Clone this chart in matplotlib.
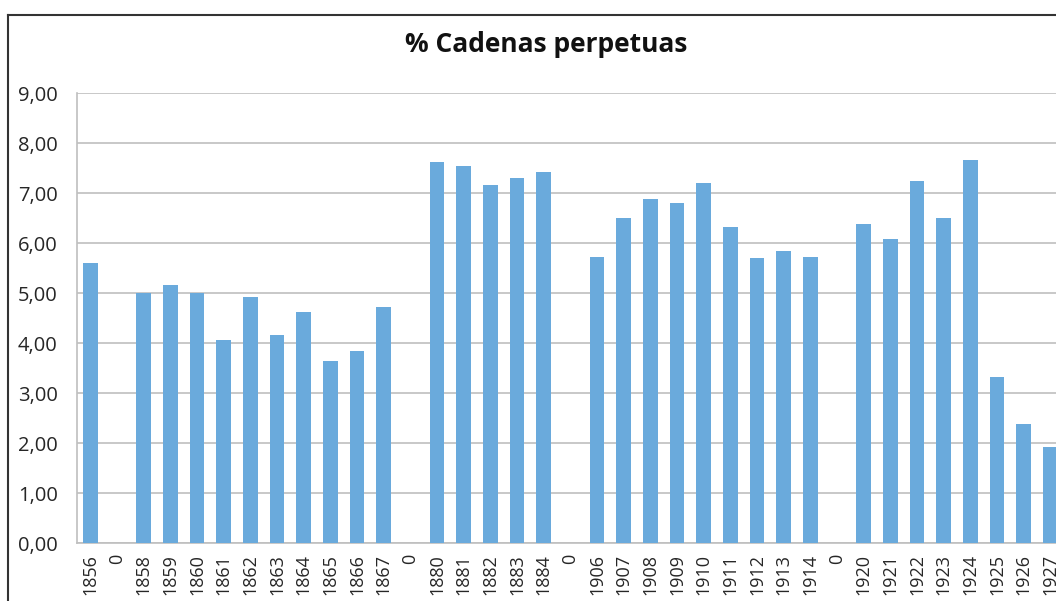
import matplotlib.pyplot as plt
from matplotlib.lines import Line2D

labels = ["1856", "0", "1858", "1859", "1860", "1861", "1862", "1863", "1864",
          "1865", "1866", "1867", "0", "1880", "1881", "1882", "1883", "1884",
          "0", "1906", "1907", "1908", "1909", "1910", "1911", "1912", "1913",
          "1914", "0", "1920", "1921", "1922", "1923", "1924", "1925", "1926",
          "1927"]
values = [5.60, 0, 5.00, 5.16, 5.00, 4.06, 4.92, 4.16, 4.62, 3.64, 3.84, 4.72,
          0, 7.62, 7.54, 7.16, 7.30, 7.42, 0, 5.72, 6.50, 6.88, 6.80, 7.20,
          6.32, 5.70, 5.84, 5.72, 0, 6.38, 6.08, 7.24, 6.50, 7.66, 3.32, 2.38,
          1.92]
yticks = [0, 1, 2, 3, 4, 5, 6, 7, 8, 9]

plt.rcParams["font.family"] = ["Open Sans", "DejaVu Sans"]

W, H = 1056, 601
fig = plt.figure(figsize=(W / 100, H / 100), dpi=100)

# plot area in pixels: left 77, top 93, bottom 543, 26.67 px per category
left, top, bottom = 77, 93, 543
width = 26.67 * len(labels)
ax = fig.add_axes([left / W, 1 - bottom / H, width / W, (bottom - top) / H])

x = list(range(len(labels)))
ax.bar(x, values, width=0.55, color="#6aaadc", zorder=3)
ax.set_xlim(-0.5, len(labels) - 0.5)
ax.set_ylim(0, 9)
ax.set_yticks(yticks)
ax.set_yticklabels([f"{v:.2f}".replace(".", ",") for v in yticks], fontsize=14.5, color="#262626")
ax.set_xticks(x)
ax.set_xticklabels(labels, rotation=90, fontsize=13, color="#262626")
ax.tick_params(length=0)
ax.tick_params(axis="y", pad=14)
ax.tick_params(axis="x", pad=8)
ax.yaxis.grid(True, color="#bfbfbf", linewidth=1.2, zorder=0)
for s in ["top", "right"]:
    ax.spines[s].set_visible(False)
for s in ["left", "bottom"]:
    ax.spines[s].set_color("#bfbfbf")
    ax.spines[s].set_linewidth(1.2)

fig.text(546 / W, 1 - 45 / H, "% Cadenas perpetuas", ha="center", va="center",
         fontsize=19, fontweight="bold", color="#111111")

# chart border (cropped at right and bottom)
fig.add_artist(Line2D([8 / W, 1], [1 - 15 / H, 1 - 15 / H], color="#333333", linewidth=1.5))
fig.add_artist(Line2D([8 / W, 8 / W], [0, 1 - 15 / H], color="#333333", linewidth=1.5))

fig.savefig("out.png", dpi=100)
